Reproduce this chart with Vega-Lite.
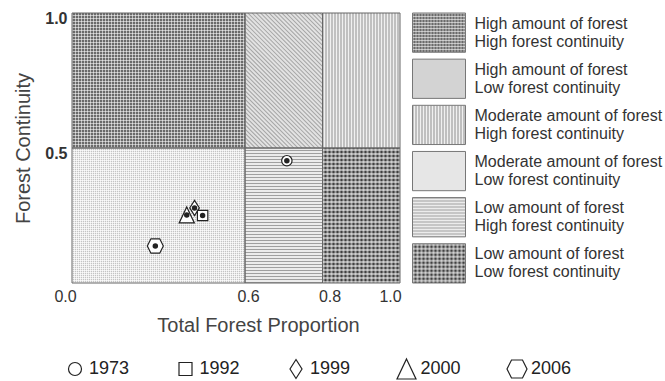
{
  "$schema": "https://vega.github.io/schema/vega-lite/v6.json",
  "background": "white",
  "padding": {"left": 13, "top": 10, "right": 0, "bottom": 0},
  "config": {"view": {"stroke": null}, "font": "Liberation Sans"},
  "bounds": "flush",
  "columns": 2,
  "spacing": {"row": 76, "column": 12.5},
  "datasets": {
    "regions": [
      {"cat": "HH", "x1": 0, "x2": 0.6, "xm": 0.3, "y1": 0.5, "y2": 1, "ym": 0.75},
      {"cat": "HL", "x1": 0.6, "x2": 0.8, "xm": 0.7, "y1": 0.5, "y2": 1, "ym": 0.75},
      {"cat": "MH", "x1": 0.8, "x2": 1, "xm": 0.9, "y1": 0.5, "y2": 1, "ym": 0.75},
      {"cat": "ML", "x1": 0, "x2": 0.6, "xm": 0.3, "y1": 0, "y2": 0.5, "ym": 0.25},
      {"cat": "LH", "x1": 0.6, "x2": 0.8, "xm": 0.7, "y1": 0, "y2": 0.5, "ym": 0.25},
      {"cat": "LL", "x1": 0.8, "x2": 1, "xm": 0.9, "y1": 0, "y2": 0.5, "ym": 0.25}
    ],
    "legendItems": [
      {"cat": "HH", "label": "High amount of forest\nHigh forest continuity"},
      {"cat": "HL", "label": "High amount of forest\nLow forest continuity"},
      {"cat": "MH", "label": "Moderate amount of forest\nHigh forest continuity"},
      {"cat": "ML", "label": "Moderate amount of forest\nLow forest continuity"},
      {"cat": "LH", "label": "Low amount of forest\nHigh forest continuity"},
      {"cat": "LL", "label": "Low amount of forest\nLow forest continuity"}
    ],
    "points": [
      {"year": "1973", "x": 0.708, "y": 0.453},
      {"year": "1999", "x": 0.425, "y": 0.278},
      {"year": "2000", "x": 0.398, "y": 0.252},
      {"year": "1992", "x": 0.453, "y": 0.25},
      {"year": "2006", "x": 0.289, "y": 0.137}
    ],
    "years": [
      {"year": "1973"}, {"year": "1992"}, {"year": "1999"}, {"year": "2000"}, {"year": "2006"}
    ]
  },
  "resolve": {"scale": {"x": "independent", "y": "independent", "fill": "independent"}},
  "concat": [
    {
      "width": 328,
      "height": 270,
      "data": {"name": "regions"},
      "layer": [
        {
          "mark": {"type": "rect", "strokeWidth": 0},
          "encoding": {
            "x": {
              "field": "x1", "type": "quantitative",
              "scale": {"domain": [0, 0.6, 0.8, 1], "range": [0, 173, 250.5, 328]},
              "title": "Total Forest Proportion",
              "axis": {
                "values": [0, 0.6, 0.8, 1], "format": ".1f", "ticks": false, "domain": false, "grid": false,
                "labelFontSize": 16, "labelColor": "#333", "labelPadding": 5, "labelFlush": false,
                "labelOffset": {"condition": [
                  {"test": "datum.value == 0", "value": -7},
                  {"test": "datum.value == 0.6", "value": 3},
                  {"test": "datum.value == 0.8", "value": 7},
                  {"test": "datum.value == 1", "value": -10}
                ], "value": 0},
                "titleFontSize": 20, "titleFontWeight": "normal", "titleColor": "#444", "titlePadding": 11, "titleX": 186
              }
            },
            "x2": {"field": "x2"},
            "y": {
              "field": "y1", "type": "quantitative",
              "scale": {"domain": [0, 1], "nice": false},
              "title": "Forest Continuity",
              "axis": {
                "values": [0.5, 1], "format": ".1f", "ticks": false, "domain": false, "grid": false,
                "labelFontSize": 16, "labelFontWeight": "bold", "labelColor": "#333", "labelPadding": 5,
                "labelOffset": 5, "labelFlush": false,
                "titleFontSize": 20, "titleFontWeight": "normal", "titleColor": "#444", "titlePadding": 11.5
              }
            },
            "y2": {"field": "y2"},
            "fill": {
              "field": "cat", "type": "nominal",
              "scale": {"domain": ["HH", "HL", "MH", "ML", "LH", "LL"], "range": ["#6a6a6a", "#e2e2e2", "#f0f0f0", "#c4c4c4", "#ececec", "#404040"]},
              "legend": null
            }
          }
        },
        {
          "transform": [{"filter": "datum.cat == 'HL'"}],
          "mark": {"type": "rule", "clip": true, "strokeWidth": 152, "strokeDash": [1, 2], "stroke": "#a5a5a5"},
          "encoding": {
            "x": {"datum": 0.4569, "type": "quantitative"}, "x2": {"datum": 0.9065},
            "y": {"datum": 0.4537, "type": "quantitative"}, "y2": {"datum": 1.0463}
          }
        },
        {
          "transform": [{"filter": "datum.cat != 'HL'"}],
          "mark": {"type": "rect", "strokeWidth": 0},
          "encoding": {
            "x": {"field": "x1", "type": "quantitative"}, "x2": {"field": "x2"},
            "y": {"field": "y1", "type": "quantitative"}, "y2": {"field": "y2"},
            "fill": {"field": "cat", "type": "nominal", "legend": null}
          }
        },
        {
          "transform": [{"filter": "datum.cat == 'MH'"}],
          "mark": {"type": "rule", "clip": true, "strokeWidth": 135, "strokeDash": [1, 2], "stroke": "#8f8f8f"},
          "encoding": {"x": {"field": "x1", "type": "quantitative"}, "x2": {"field": "x2"}, "y": {"field": "ym", "type": "quantitative"}}
        },
        {
          "transform": [{"filter": "datum.cat == 'LH'"}],
          "mark": {"type": "rule", "clip": true, "strokeWidth": 77.5, "strokeDash": [1, 2], "stroke": "#a0a0a0"},
          "encoding": {"x": {"field": "xm", "type": "quantitative"}, "y": {"field": "y1", "type": "quantitative"}, "y2": {"field": "y2"}}
        },
        {
          "transform": [{"filter": "datum.cat == 'HH'"}],
          "mark": {"type": "rule", "clip": true, "strokeWidth": 135, "strokeDash": [1, 2], "stroke": "white", "strokeOpacity": 0.55},
          "encoding": {"x": {"field": "x1", "type": "quantitative"}, "x2": {"field": "x2"}, "y": {"field": "ym", "type": "quantitative"}}
        },
        {
          "transform": [{"filter": "datum.cat == 'HH'"}],
          "mark": {"type": "rule", "clip": true, "strokeWidth": 173, "strokeDash": [1, 2], "stroke": "white", "strokeOpacity": 0.55},
          "encoding": {"x": {"field": "xm", "type": "quantitative"}, "y": {"field": "y1", "type": "quantitative"}, "y2": {"field": "y2"}}
        },
        {
          "transform": [{"filter": "datum.cat == 'ML'"}],
          "mark": {"type": "rule", "clip": true, "strokeWidth": 135, "strokeDash": [1, 1], "stroke": "white", "strokeOpacity": 0.7},
          "encoding": {"x": {"field": "x1", "type": "quantitative"}, "x2": {"field": "x2"}, "y": {"field": "ym", "type": "quantitative"}}
        },
        {
          "transform": [{"filter": "datum.cat == 'ML'"}],
          "mark": {"type": "rule", "clip": true, "strokeWidth": 173, "strokeDash": [1, 1], "stroke": "white", "strokeOpacity": 0.7},
          "encoding": {"x": {"field": "xm", "type": "quantitative"}, "y": {"field": "y1", "type": "quantitative"}, "y2": {"field": "y2"}}
        },
        {
          "transform": [{"filter": "datum.cat == 'LL'"}],
          "mark": {"type": "rule", "clip": true, "strokeWidth": 135, "strokeDash": [2, 2], "stroke": "white", "strokeOpacity": 0.5},
          "encoding": {"x": {"field": "x1", "type": "quantitative"}, "x2": {"field": "x2"}, "y": {"field": "ym", "type": "quantitative"}}
        },
        {
          "transform": [{"filter": "datum.cat == 'LL'"}],
          "mark": {"type": "rule", "clip": true, "strokeWidth": 77.5, "strokeDash": [2, 2], "stroke": "white", "strokeOpacity": 0.5},
          "encoding": {"x": {"field": "xm", "type": "quantitative"}, "y": {"field": "y1", "type": "quantitative"}, "y2": {"field": "y2"}}
        },
        {
          "mark": {"type": "rect", "filled": false, "stroke": "#666", "strokeWidth": 1},
          "encoding": {"x": {"field": "x1", "type": "quantitative"}, "x2": {"field": "x2"}, "y": {"field": "y1", "type": "quantitative"}, "y2": {"field": "y2"}}
        },
        {
          "data": {"name": "points"},
          "mark": {"type": "point", "filled": true, "fill": "white", "stroke": "#222", "strokeWidth": 1.2, "size": 256, "opacity": 1},
          "encoding": {
            "x": {"field": "x", "type": "quantitative"},
            "y": {"field": "y", "type": "quantitative"},
            "shape": {
              "field": "year", "type": "nominal",
              "scale": {
                "domain": ["1973", "1992", "1999", "2000", "2006"],
                "range": [
                  "M-0.65,0A0.65,0.65 0 1,1 0.65,0A0.65,0.65 0 1,1 -0.65,0Z",
                  "M-0.65,-0.65H0.65V0.65H-0.65Z",
                  "M0,-0.95L0.6,0L0,0.95L-0.6,0Z",
                  "M0,-1L0.95,1L-0.95,1Z",
                  "M-1,0L-0.55,-0.9L0.55,-0.9L1,0L0.55,0.9L-0.55,0.9Z"
                ]
              },
              "legend": null
            }
          }
        },
        {
          "data": {"name": "points"},
          "mark": {"type": "circle", "size": 30, "color": "#222", "opacity": 1},
          "encoding": {"x": {"field": "x", "type": "quantitative"}, "y": {"field": "y", "type": "quantitative"}}
        }
      ]
    },
    {
      "width": 250,
      "height": 270,
      "data": {"name": "legendItems"},
      "encoding": {
        "y": {"field": "cat", "type": "nominal", "sort": null, "scale": {"paddingInner": 0.15, "paddingOuter": 0}, "axis": null}
      },
      "layer": [
        {
          "mark": {"type": "rect", "strokeWidth": 0},
          "encoding": {
            "x": {"datum": 0, "type": "quantitative", "scale": {"domain": [0, 1]}, "axis": null},
            "x2": {"datum": 0.212},
            "fill": {
              "field": "cat", "type": "nominal",
              "scale": {"domain": ["HH", "HL", "MH", "ML", "LH", "LL"], "range": ["#6a6a6a", "#d3d3d3", "#f0f0f0", "#c4c4c4", "#ececec", "#404040"]},
              "legend": null
            }
          }
        },
        {
          "transform": [{"filter": "datum.cat == 'MH'"}],
          "mark": {"type": "rule", "clip": true, "strokeWidth": 39, "strokeDash": [1, 2], "stroke": "#8f8f8f"},
          "encoding": {"x": {"datum": 0, "type": "quantitative"}, "x2": {"datum": 0.212}}
        },
        {
          "transform": [{"filter": "datum.cat == 'LH'"}],
          "mark": {"type": "rule", "clip": true, "strokeWidth": 53, "strokeDash": [1, 2], "stroke": "#a0a0a0"},
          "encoding": {"x": {"datum": 0.106, "type": "quantitative"}, "y": {"field": "cat", "type": "nominal", "sort": null, "bandPosition": 0}, "y2": {"field": "cat", "bandPosition": 1}}
        },
        {
          "transform": [{"filter": "datum.cat == 'HH'"}],
          "mark": {"type": "rule", "clip": true, "strokeWidth": 39, "strokeDash": [1, 2], "stroke": "white", "strokeOpacity": 0.55},
          "encoding": {"x": {"datum": 0, "type": "quantitative"}, "x2": {"datum": 0.212}}
        },
        {
          "transform": [{"filter": "datum.cat == 'HH'"}],
          "mark": {"type": "rule", "clip": true, "strokeWidth": 53, "strokeDash": [1, 2], "stroke": "white", "strokeOpacity": 0.55},
          "encoding": {"x": {"datum": 0.106, "type": "quantitative"}, "y": {"field": "cat", "type": "nominal", "sort": null, "bandPosition": 0}, "y2": {"field": "cat", "bandPosition": 1}}
        },
        {
          "transform": [{"filter": "datum.cat == 'ML'"}],
          "mark": {"type": "rule", "clip": true, "strokeWidth": 39, "strokeDash": [1, 1], "stroke": "white", "strokeOpacity": 0.7},
          "encoding": {"x": {"datum": 0, "type": "quantitative"}, "x2": {"datum": 0.212}}
        },
        {
          "transform": [{"filter": "datum.cat == 'ML'"}],
          "mark": {"type": "rule", "clip": true, "strokeWidth": 53, "strokeDash": [1, 1], "stroke": "white", "strokeOpacity": 0.7},
          "encoding": {"x": {"datum": 0.106, "type": "quantitative"}, "y": {"field": "cat", "type": "nominal", "sort": null, "bandPosition": 0}, "y2": {"field": "cat", "bandPosition": 1}}
        },
        {
          "transform": [{"filter": "datum.cat == 'LL'"}],
          "mark": {"type": "rule", "clip": true, "strokeWidth": 39, "strokeDash": [2, 2], "stroke": "white", "strokeOpacity": 0.5},
          "encoding": {"x": {"datum": 0, "type": "quantitative"}, "x2": {"datum": 0.212}}
        },
        {
          "transform": [{"filter": "datum.cat == 'LL'"}],
          "mark": {"type": "rule", "clip": true, "strokeWidth": 53, "strokeDash": [2, 2], "stroke": "white", "strokeOpacity": 0.5},
          "encoding": {"x": {"datum": 0.106, "type": "quantitative"}, "y": {"field": "cat", "type": "nominal", "sort": null, "bandPosition": 0}, "y2": {"field": "cat", "bandPosition": 1}}
        },
        {
          "mark": {"type": "rect", "filled": false, "stroke": "#777", "strokeWidth": 1},
          "encoding": {"x": {"datum": 0, "type": "quantitative"}, "x2": {"datum": 0.212}}
        },
        {
          "mark": {"type": "text", "align": "left", "baseline": "middle", "dy": -9, "fontSize": 16, "lineHeight": 18, "lineBreak": "\n", "color": "#333"},
          "encoding": {"x": {"datum": 0.248, "type": "quantitative"}, "text": {"field": "label"}}
        }
      ]
    },
    {
      "width": 328,
      "height": 20,
      "data": {"name": "years"},
      "layer": [
        {
          "mark": {"type": "point", "filled": true, "fill": "white", "stroke": "#222", "strokeWidth": 1.2, "size": 400, "opacity": 1},
          "encoding": {
            "x": {"field": "year", "type": "ordinal", "scale": {"type": "point", "padding": 0, "range": [3, 445]}, "axis": null},
            "shape": {
              "field": "year", "type": "nominal",
              "scale": {
                "domain": ["1973", "1992", "1999", "2000", "2006"],
                "range": [
                  "M-0.65,0A0.65,0.65 0 1,1 0.65,0A0.65,0.65 0 1,1 -0.65,0Z",
                  "M-0.65,-0.65H0.65V0.65H-0.65Z",
                  "M0,-0.95L0.6,0L0,0.95L-0.6,0Z",
                  "M0,-1L0.95,1L-0.95,1Z",
                  "M-1,0L-0.55,-0.9L0.55,-0.9L1,0L0.55,0.9L-0.55,0.9Z"
                ]
              },
              "legend": null
            }
          }
        },
        {
          "mark": {"type": "text", "align": "left", "baseline": "middle", "dx": 14, "fontSize": 18, "color": "#222"},
          "encoding": {
            "x": {"field": "year", "type": "ordinal", "scale": {"type": "point", "padding": 0, "range": [3, 445]}, "axis": null},
            "text": {"field": "year"}
          }
        }
      ]
    }
  ]
}
